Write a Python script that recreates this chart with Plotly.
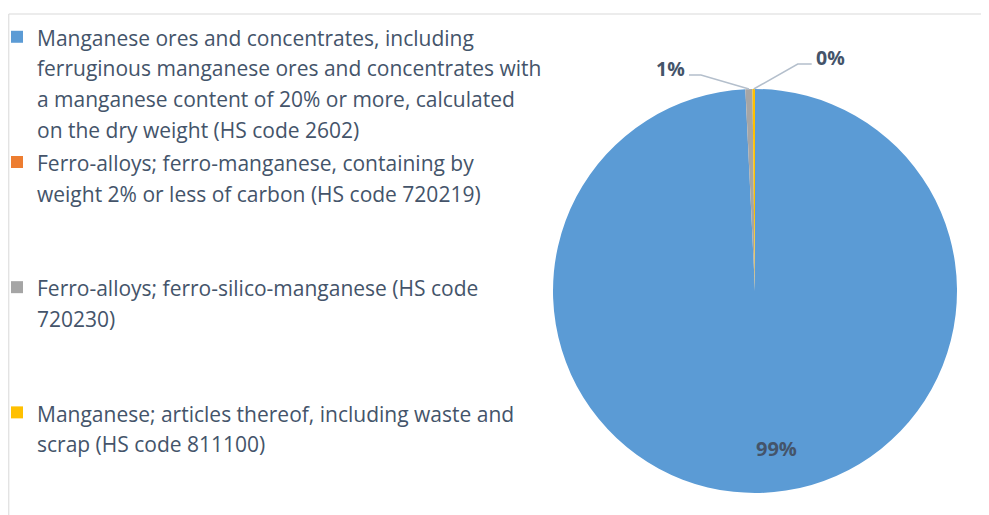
import math
import plotly.graph_objects as go

# ---- data ----
categories = [
    "Manganese ores and concentrates, including<br>ferruginous manganese ores and concentrates with<br>a manganese content of 20% or more, calculated<br>on the dry weight (HS code 2602)",
    "Ferro-alloys; ferro-manganese, containing by<br>weight 2% or less of carbon (HS code 720219)",
    "Ferro-alloys; ferro-silico-manganese (HS code<br>720230)",
    "Manganese; articles thereof, including waste and<br>scrap (HS code 811100)",
]
shares = [99.24, 0.01, 0.55, 0.20]
colors = ["#5B9BD5", "#ED7D31", "#A5A5A5", "#FFC000"]

# ---- layout constants ----
W, H = 989, 515
OFF = 8  # page body margin
CX, CY, R = 755, 291, 202
TXT = "#44546A"
LEAD = "#B4BFCC"
FONT = "Open Sans"


def fx(px):
    return (px - OFF) / W


def fy(py):
    return 1 - (py - OFF) / H


# extra blank lines to spread legend items like the original
pads = ["", "<br> <br> ", "<br> <br> ", ""]
legend_labels = [
    "<br>".join('<span style="font-size:21px">%s</span>' % ln for ln in c.split("<br>")) + p
    for c, p in zip(categories, pads)
]

fig = go.Figure()
fig.add_trace(go.Pie(
    labels=legend_labels,
    values=shares,
    sort=False,
    direction="clockwise",
    rotation=0,
    marker=dict(colors=colors, line=dict(width=0)),
    textinfo="none",
    hoverinfo="label+percent",
    domain=dict(x=[fx(CX - R), fx(CX + R)], y=[fy(CY + R), fy(CY - R)]),
    automargin=False,
    showlegend=True,
))

# slice angles (clockwise from 12 o'clock)
total = sum(shares)
mids = []
acc = 0.0
for v in shares:
    mids.append(360 * (acc + v / 2) / total)
    acc += v


def on_circle(deg, frac=1.0):
    a = math.radians(deg)
    return CX + frac * R * math.sin(a), CY - frac * R * math.cos(a)


annotations = []
shapes = []

# big slice label inside
bx, by = on_circle(mids[0], 0.78)
annotations.append(dict(x=fx(bx + 18), y=fy(by), xref="paper", yref="paper",
                        xanchor="center", yanchor="middle",
                        text="<b>%d%%</b>" % round(100 * shares[0] / total),
                        showarrow=False, font=dict(size=20, color=TXT, family=FONT)))

# outside labels with elbow leader lines: (slice index, elbow dx, elbow dy, horiz len)
outside = [(2, -48, -14, -12), (3, 44, -25, 14)]
for idx, dx, dy, hl in outside:
    ax_, ay_ = on_circle(mids[idx])
    ex, ey = ax_ + dx, ay_ + dy
    tx = ex + hl
    path = "M %f,%f L %f,%f L %f,%f" % (fx(ax_), fy(ay_), fx(ex), fy(ey), fx(tx), fy(ey))
    shapes.append(dict(type="path", xref="paper", yref="paper", path=path,
                       line=dict(color=LEAD, width=1.5)))
    annotations.append(dict(
        x=fx(tx + (2 if hl > 0 else -2)), y=fy(ey - 7), xref="paper", yref="paper",
        text="<b>%d%%</b>" % round(100 * shares[idx] / total),
        xanchor="left" if hl > 0 else "right", yanchor="middle",
        showarrow=False, font=dict(size=19.5, color=TXT, family=FONT)))

# chart-area border
shapes.append(dict(type="rect", xref="paper", yref="paper",
                   x0=0.0008, x1=1.02, y0=-0.02, y1=fy(14),
                   line=dict(color="#D9D9D9", width=1), fillcolor="rgba(0,0,0,0)", layer="below"))

fig.update_layout(
    width=W, height=H,
    margin=dict(l=0, r=0, t=0, b=0),
    paper_bgcolor="white",
    plot_bgcolor="white",
    font=dict(family=FONT, color=TXT),
    legend=dict(
        x=0, y=fy(15), xanchor="left", yanchor="top",
        font=dict(size=23.5, color=TXT, family=FONT),
        valign="top",
        indentation=-11,
        bgcolor="rgba(0,0,0,0)",
        tracegroupgap=0,
    ),
    shapes=shapes,
    annotations=annotations,
)

fig.write_html("out.html")
